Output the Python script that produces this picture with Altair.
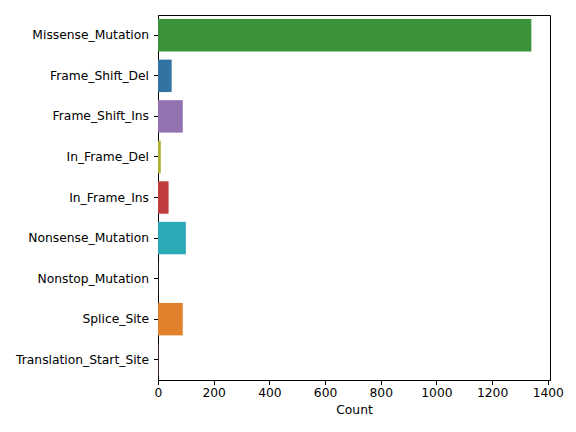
import altair as alt
import pandas as pd

categories = ["Missense_Mutation", "Frame_Shift_Del", "Frame_Shift_Ins", "In_Frame_Del",
              "In_Frame_Ins", "Nonsense_Mutation", "Nonstop_Mutation", "Splice_Site",
              "Translation_Start_Site"]
counts = [1341, 49, 89, 10, 38, 100, 1, 89, 1]
colors = ["#3a923a", "#3274a1", "#9372b2", "#adad33", "#c03d3e", "#2ba9b7", "#845b53", "#e1812c", "#d684bd"]

df = pd.DataFrame({"cat": categories, "count": counts})

FS = 12.3

chart = alt.Chart(df).mark_bar().encode(
    y=alt.Y("cat:N", sort=categories, title=None,
            scale=alt.Scale(paddingInner=0.2, paddingOuter=0.1),
            axis=alt.Axis(labelFont="DejaVu Sans", labelFontSize=FS, labelColor="black",
                          tickColor="black", tickSize=4.5, domainColor="black", labelPadding=5)),
    x=alt.X("count:Q", title="Count", scale=alt.Scale(domain=[0, 1408], nice=False),
            axis=alt.Axis(values=[0, 200, 400, 600, 800, 1000, 1200, 1400], grid=False, format="d",
                          labelFlush=False,
                          labelFont="DejaVu Sans", labelFontSize=FS, labelColor="black",
                          tickColor="black", tickSize=4.5, domainColor="black",
                          titleFont="DejaVu Sans", titleFontSize=FS, titleFontWeight="normal",
                          titleColor="black", labelPadding=2, titlePadding=5)),
    color=alt.Color("cat:N", scale=alt.Scale(domain=categories, range=colors), legend=None),
).properties(
    width=392, height=365,
    autosize=alt.AutoSizeParams(type="none"),
    padding={"left": 158, "top": 15, "right": 26, "bottom": 52},
).configure_view(stroke="black", strokeWidth=1).configure_axis(grid=False)

chart.save("out.html", embed_options={"renderer": "svg", "actions": False})
